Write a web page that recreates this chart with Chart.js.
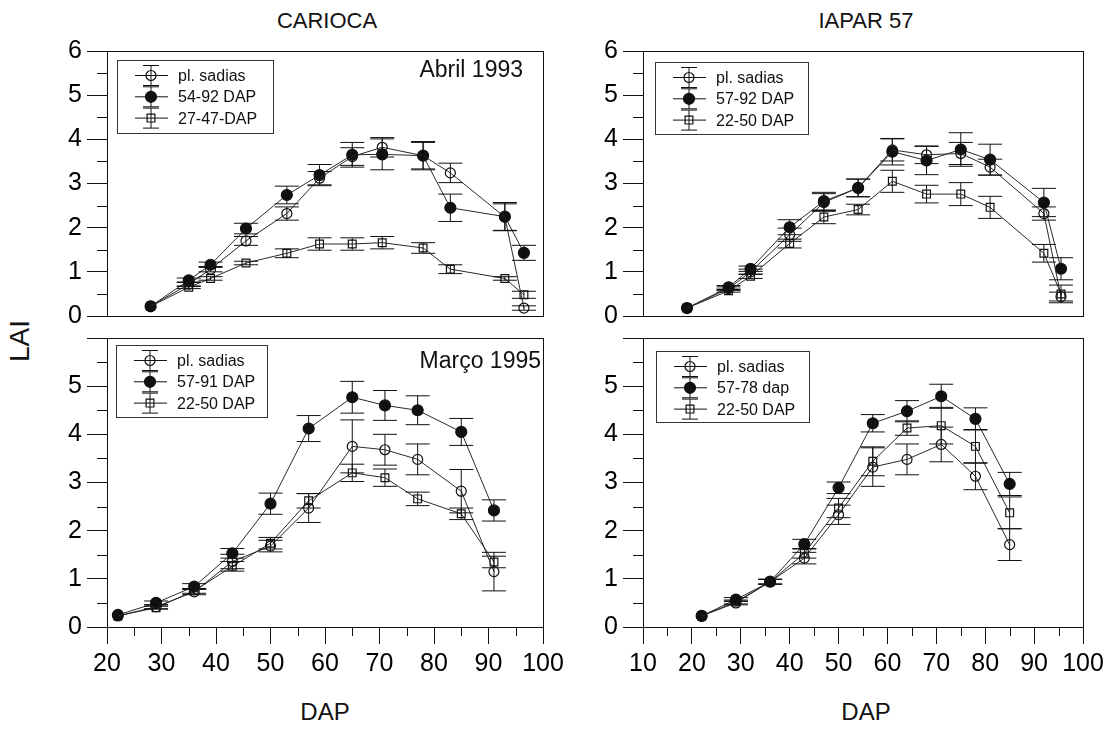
<!DOCTYPE html>
<html>
<head>
<meta charset="utf-8">
<title>LAI - Carioca / IAPAR 57</title>
<script src="https://cdn.jsdelivr.net/npm/chart.js@4.4.0/dist/chart.umd.min.js"></script>
<style>
    body { margin: 0; background: #fff; }
    #page {
        position: relative;
        width: 1120px;
        height: 734px;
        overflow: hidden;
        font-family: 'Liberation Sans', Arial, sans-serif;
        color: #111;
    }
    #page canvas { position: absolute; }
    .lbl {
        position: absolute;
        transform: translate(-50%, -50%);
        white-space: nowrap;
    }
</style>
</head>
<body>
<div id="page">
    <div class="lbl" style="left:327px; top:21px; font-size:22px;">CARIOCA</div>
    <div class="lbl" style="left:866px; top:21px; font-size:22px;">IAPAR 57</div>
    <div class="lbl" style="left:20px; top:341px; font-size:28px; transform:translate(-50%,-50%) rotate(-90deg);">LAI</div>
    <div class="lbl" style="left:325px; top:712px; font-size:24px;">DAP</div>
    <div class="lbl" style="left:866px; top:712px; font-size:24px;">DAP</div>

    <canvas id="chartA" width="575" height="360" style="left:0; top:0;"></canvas>
    <canvas id="chartB" width="580" height="360" style="left:540px; top:0;"></canvas>
    <canvas id="chartC" width="575" height="416" style="left:0; top:318px;"></canvas>
    <canvas id="chartD" width="580" height="416" style="left:540px; top:318px;"></canvas>
</div>

<script>
// Axis ranges
const xRangeCarioca = [20, 100];
const xRangeIapar = [10, 100];
const yRange = [0, 6];

// CARIOCA - Abril 1993
const carAbrilDap = [28, 35, 39, 45.5, 53, 59, 65, 70.5, 78, 83, 93, 96.5];
const carAbrilSadias = [0.22, 0.72, 1.06, 1.70, 2.32, 3.12, 3.61, 3.82, 3.63, 3.24, 2.24, 0.18];
const carAbrilSadiasErr = [0, 0.05, 0.06, 0.10, 0.15, 0.15, 0.20, 0.22, 0.30, 0.22, 0.30, 0.05];
const carAbril5492 = [0.22, 0.81, 1.16, 1.98, 2.74, 3.19, 3.65, 3.66, 3.63, 2.45, 2.25, 1.43];
const carAbril5492Err = [0, 0.05, 0.06, 0.12, 0.20, 0.24, 0.28, 0.35, 0.32, 0.31, 0.32, 0.17];
const carAbril2747 = [0.22, 0.65, 0.85, 1.20, 1.42, 1.63, 1.63, 1.66, 1.54, 1.06, 0.85, 0.48];
const carAbril2747Err = [0, 0.03, 0.04, 0.04, 0.10, 0.14, 0.14, 0.14, 0.12, 0.10, 0.04, 0.08];

// IAPAR 57 - Abril 1993
const iapAbrilDap = [19, 27.5, 32, 40, 47, 54, 61, 68, 75, 81, 92, 95.5];
const iapAbrilSadias = [0.18, 0.62, 1.00, 1.84, 2.57, 2.90, 3.76, 3.65, 3.68, 3.37, 2.32, 0.44];
const iapAbrilSadiasErr = [0, 0.04, 0.06, 0.15, 0.20, 0.20, 0.25, 0.20, 0.25, 0.18, 0.15, 0.10];
const iapAbril5792 = [0.18, 0.65, 1.07, 2.01, 2.60, 2.90, 3.72, 3.52, 3.77, 3.54, 2.57, 1.07];
const iapAbril5792Err = [0, 0.04, 0.06, 0.17, 0.20, 0.20, 0.30, 0.32, 0.38, 0.35, 0.32, 0.25];
const iapAbril2250 = [0.18, 0.57, 0.90, 1.64, 2.24, 2.41, 3.05, 2.76, 2.76, 2.46, 1.42, 0.50];
const iapAbril2250Err = [0, 0.03, 0.05, 0.10, 0.15, 0.12, 0.25, 0.20, 0.26, 0.25, 0.20, 0.20];

// CARIOCA - Março 1995
const carMarcoDap = [22, 29, 36, 43, 50, 57, 65, 71, 77, 85, 91];
const carMarcoSadias = [0.23, 0.42, 0.73, 1.36, 1.68, 2.47, 3.75, 3.68, 3.48, 2.82, 1.15];
const carMarcoSadiasErr = [0, 0.04, 0.06, 0.15, 0.12, 0.30, 0.55, 0.32, 0.32, 0.45, 0.40];
const carMarco5791 = [0.25, 0.50, 0.84, 1.53, 2.56, 4.12, 4.77, 4.60, 4.50, 4.05, 2.42];
const carMarco5791Err = [0, 0.04, 0.06, 0.10, 0.22, 0.27, 0.33, 0.31, 0.30, 0.28, 0.22];
const carMarco2250 = [0.23, 0.40, 0.75, 1.26, 1.74, 2.62, 3.20, 3.10, 2.66, 2.35, 1.35];
const carMarco2250Err = [0, 0.03, 0.05, 0.10, 0.12, 0.15, 0.18, 0.18, 0.14, 0.12, 0.12];

// IAPAR 57 - Março 1995
const iapMarcoDap = [22, 29, 36, 43, 50, 57, 64, 71, 78, 85];
const iapMarcoSadias = [0.23, 0.50, 0.94, 1.43, 2.33, 3.32, 3.48, 3.79, 3.13, 1.71];
const iapMarcoSadiasErr = [0, 0.04, 0.05, 0.12, 0.20, 0.40, 0.32, 0.36, 0.28, 0.33];
const iapMarco5778 = [0.23, 0.57, 0.94, 1.72, 2.89, 4.23, 4.48, 4.79, 4.32, 2.97];
const iapMarco5778Err = [0, 0.04, 0.05, 0.10, 0.12, 0.18, 0.22, 0.25, 0.23, 0.24];
const iapMarco2250 = [0.23, 0.52, 0.94, 1.53, 2.47, 3.44, 4.13, 4.18, 3.75, 2.37];
const iapMarco2250Err = [0, 0.04, 0.05, 0.10, 0.20, 0.30, 0.15, 0.38, 0.35, 0.33];

const INK = '#111';
const LINE = '#2a2a2a';

// marker styles
const openCircle = { shape: 'circle', r: 5, fill: 'rgba(0,0,0,0)' };
const filledCircle = { shape: 'circle', r: 5.5, fill: INK };
const openSquare = { shape: 'rect', r: 5.5, fill: 'rgba(0,0,0,0)' };

Chart.defaults.font.family = "'Liberation Sans', Arial, sans-serif";
Chart.defaults.color = INK;

document.addEventListener('DOMContentLoaded', function() {
    makePanel('chartA', {
        canvasLeft: 0, canvasTop: 0,
        area: { left: 107, top: 51, right: 543, bottom: 338 },
        xRange: xRangeCarioca, showX: false, hideTop: false,
        legend: { dx: 10, dy: 9, w: 156, h: 73 },
        note: { text: 'Abril 1993', dx: -20, dy: 20 },
        datasets: [
            series('pl. sadias', carAbrilDap, carAbrilSadias, carAbrilSadiasErr, openCircle),
            series('54-92 DAP', carAbrilDap, carAbril5492, carAbril5492Err, filledCircle),
            series('27-47-DAP', carAbrilDap, carAbril2747, carAbril2747Err, openSquare)
        ]
    });

    makePanel('chartB', {
        canvasLeft: 540, canvasTop: 0,
        area: { left: 643, top: 51, right: 1083, bottom: 338 },
        xRange: xRangeIapar, showX: false, hideTop: false,
        legend: { dx: 12, dy: 11, w: 153, h: 72 },
        note: null,
        datasets: [
            series('pl. sadias', iapAbrilDap, iapAbrilSadias, iapAbrilSadiasErr, openCircle),
            series('57-92 DAP', iapAbrilDap, iapAbril5792, iapAbril5792Err, filledCircle),
            series('22-50 DAP', iapAbrilDap, iapAbril2250, iapAbril2250Err, openSquare)
        ]
    });

    makePanel('chartC', {
        canvasLeft: 0, canvasTop: 318,
        area: { left: 107, top: 338, right: 543, bottom: 627 },
        xRange: xRangeCarioca, showX: true, hideTop: true,
        legend: { dx: 9, dy: 7, w: 151, h: 72 },
        note: { text: 'Março 1995', dx: -2, dy: 24 },
        datasets: [
            series('pl. sadias', carMarcoDap, carMarcoSadias, carMarcoSadiasErr, openCircle),
            series('57-91 DAP', carMarcoDap, carMarco5791, carMarco5791Err, filledCircle),
            series('22-50 DAP', carMarcoDap, carMarco2250, carMarco2250Err, openSquare)
        ]
    });

    makePanel('chartD', {
        canvasLeft: 540, canvasTop: 318,
        area: { left: 643, top: 338, right: 1083, bottom: 627 },
        xRange: xRangeIapar, showX: true, hideTop: true,
        legend: { dx: 13, dy: 13, w: 153, h: 71 },
        note: null,
        datasets: [
            series('pl. sadias', iapMarcoDap, iapMarcoSadias, iapMarcoSadiasErr, openCircle),
            series('57-78 dap', iapMarcoDap, iapMarco5778, iapMarco5778Err, filledCircle),
            series('22-50 DAP', iapMarcoDap, iapMarco2250, iapMarco2250Err, openSquare)
        ]
    });
});

function series(label, xs, ys, errs, style) {
    return {
        label: label,
        data: xs.map((x, i) => ({ x: x, y: ys[i] })),
        errors: errs,
        borderColor: LINE,
        borderWidth: 1,
        tension: 0,
        fill: false,
        pointStyle: style.shape,
        pointRadius: style.r,
        pointBackgroundColor: style.fill,
        pointBorderColor: INK,
        pointBorderWidth: 1.2
    };
}

function makePanel(id, cfg) {
    const canvas = document.getElementById(id);
    const a = cfg.area;
    const yAxisW = a.left - cfg.canvasLeft;
    const padTop = a.top - cfg.canvasTop;
    const padRight = cfg.canvasLeft + canvas.width - a.right;
    const bottomSpace = cfg.canvasTop + canvas.height - a.bottom;

    // error bars with caps
    const errorBars = {
        id: 'errorBars',
        afterDatasetsDraw(chart) {
            const ctx = chart.ctx;
            const yScale = chart.scales.y;
            ctx.save();
            ctx.strokeStyle = INK;
            ctx.lineWidth = 1;
            chart.data.datasets.forEach((ds, i) => {
                const meta = chart.getDatasetMeta(i);
                meta.data.forEach((pt, j) => {
                    const e = ds.errors[j];
                    if (!e) return;
                    const top = yScale.getPixelForValue(ds.data[j].y + e);
                    const bot = yScale.getPixelForValue(ds.data[j].y - e);
                    ctx.beginPath();
                    ctx.moveTo(pt.x, top);
                    ctx.lineTo(pt.x, bot);
                    ctx.moveTo(pt.x - 12, top);
                    ctx.lineTo(pt.x + 12, top);
                    ctx.moveTo(pt.x - 12, bot);
                    ctx.lineTo(pt.x + 12, bot);
                    ctx.stroke();
                });
            });
            ctx.restore();
        }
    };

    // frame, minor ticks, legend box and period note
    const decorations = {
        id: 'decorations',
        afterDraw(chart) {
            const ctx = chart.ctx;
            const area = chart.chartArea;
            const xs = chart.scales.x;
            const ys = chart.scales.y;
            ctx.save();
            ctx.strokeStyle = INK;
            ctx.lineWidth = 1;

            // box around the plot
            ctx.strokeRect(area.left + 0.5, area.top + 0.5, area.right - area.left, area.bottom - area.top);

            // minor ticks
            ctx.beginPath();
            for (let v = yRange[0] + 0.5; v < yRange[1]; v += 1) {
                const py = Math.round(ys.getPixelForValue(v)) + 0.5;
                ctx.moveTo(area.left - 10, py);
                ctx.lineTo(area.left, py);
            }
            if (cfg.showX) {
                for (let v = cfg.xRange[0] + 5; v < cfg.xRange[1]; v += 10) {
                    const px = Math.round(xs.getPixelForValue(v)) + 0.5;
                    ctx.moveTo(px, area.bottom);
                    ctx.lineTo(px, area.bottom + 9);
                }
            }
            ctx.stroke();

            // legend
            const lg = cfg.legend;
            const bx = area.left + lg.dx;
            const by = area.top + lg.dy;
            ctx.fillStyle = '#fff';
            ctx.fillRect(bx, by, lg.w, lg.h);
            ctx.strokeStyle = '#333';
            ctx.strokeRect(bx + 0.5, by + 0.5, lg.w, lg.h);
            ctx.font = "16px 'Liberation Sans', Arial, sans-serif";
            ctx.textBaseline = 'middle';
            ctx.textAlign = 'left';
            chart.data.datasets.forEach((ds, i) => {
                const ry = by + 15.5 + i * 21.3;
                const cx = bx + 34;
                ctx.strokeStyle = INK;
                ctx.lineWidth = 1;
                ctx.beginPath();
                ctx.moveTo(bx + 18, ry);
                ctx.lineTo(bx + 51, ry);
                ctx.moveTo(cx, ry - 10);
                ctx.lineTo(cx, ry + 10);
                ctx.moveTo(cx - 8, ry - 10);
                ctx.lineTo(cx + 8, ry - 10);
                ctx.moveTo(cx - 8, ry + 10);
                ctx.lineTo(cx + 8, ry + 10);
                ctx.stroke();
                ctx.fillStyle = ds.pointBackgroundColor;
                ctx.lineWidth = 1.2;
                Chart.helpers.drawPoint(ctx, {
                    pointStyle: ds.pointStyle,
                    radius: ds.pointRadius,
                    rotation: 0,
                    borderWidth: 1.2
                }, cx, ry);
                ctx.fillStyle = INK;
                ctx.fillText(ds.label, bx + 61, ry + 1);
            });

            // period note in the upper right corner
            if (cfg.note) {
                ctx.font = "23px 'Liberation Sans', Arial, sans-serif";
                ctx.textAlign = 'right';
                ctx.fillStyle = INK;
                ctx.fillText(cfg.note.text, area.right + cfg.note.dx, area.top + cfg.note.dy);
            }
            ctx.restore();
        }
    };

    return new Chart(canvas, {
        type: 'line',
        data: { datasets: cfg.datasets },
        options: {
            responsive: false,
            animation: false,
            events: [],
            layout: {
                autoPadding: false,
                padding: { top: padTop, right: padRight, bottom: cfg.showX ? 0 : bottomSpace, left: 0 }
            },
            plugins: {
                legend: { display: false },
                tooltip: { enabled: false }
            },
            scales: {
                x: {
                    type: 'linear',
                    display: cfg.showX,
                    min: cfg.xRange[0],
                    max: cfg.xRange[1],
                    border: { display: true, color: INK, width: 1 },
                    grid: { drawOnChartArea: false, color: INK, tickLength: 17 },
                    ticks: {
                        stepSize: 10,
                        autoSkip: false,
                        maxRotation: 0,
                        padding: 5,
                        color: '#000',
                        font: { size: 25 }
                    },
                    afterFit: function(scale) {
                        scale.height = bottomSpace;
                        scale.paddingLeft = 0;
                        scale.paddingRight = 0;
                    }
                },
                y: {
                    type: 'linear',
                    min: yRange[0],
                    max: yRange[1],
                    border: { display: true, color: INK, width: 1 },
                    grid: { drawOnChartArea: false, color: INK, tickLength: 20 },
                    ticks: {
                        stepSize: 1,
                        padding: 5,
                        color: '#000',
                        font: { size: 25 },
                        callback: function(value) {
                            // the top value of the lower panels is the zero of the upper ones
                            if (cfg.hideTop && value === yRange[1]) return '';
                            return value;
                        }
                    },
                    afterFit: function(scale) {
                        scale.width = yAxisW;
                        scale.paddingTop = 0;
                        scale.paddingBottom = 0;
                    }
                }
            }
        },
        plugins: [errorBars, decorations]
    });
}
</script>
</body>
</html>
